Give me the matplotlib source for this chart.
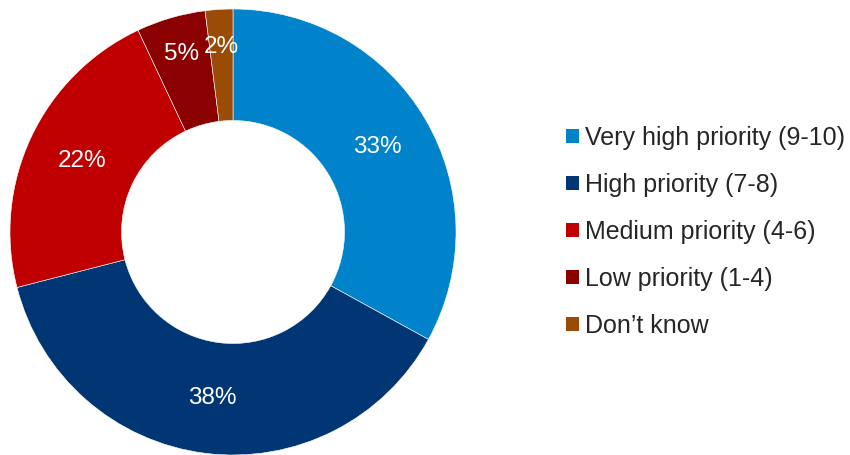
import matplotlib
matplotlib.use("Agg")
import matplotlib.pyplot as plt
from matplotlib.patches import Patch

categories = ["Very high priority (9-10)", "High priority (7-8)",
              "Medium priority (4-6)", "Low priority (1-4)", "Don\u2019t know"]
shares = [33, 38, 22, 5, 2]
colors = ["#0083CB", "#003673", "#C00000", "#8B0000", "#9A4B06"]

plt.rcParams["font.family"] = ["Liberation Sans", "DejaVu Sans"]

fig = plt.figure(figsize=(8.5, 4.55), dpi=100)
ax = fig.add_axes([10 / 850, 0.0, 446 / 850, 446 / 455])
wedges, texts, autotexts = ax.pie(
    shares, colors=colors, startangle=90, counterclock=False,
    radius=1.0, autopct="%d%%", pctdistance=0.75,
    wedgeprops=dict(width=0.5, edgecolor="white", linewidth=0.4),
    textprops=dict(color="white", fontsize=17.5),
)
# thin slices: push their labels toward the outer rim
for share, t in zip(shares, autotexts):
    if share < 10:
        x, y = t.get_position()
        t.set_position((x * 0.83 / 0.75, y * 0.83 / 0.75))
ax.set_xlim(-1, 1)
ax.set_ylim(-1, 1)
ax.set_aspect("equal")
ax.axis("off")

handles = [Patch(facecolor=c, edgecolor="none") for c in colors]
fig.legend(handles, categories, loc="center left",
           bbox_to_anchor=(566 / 850, 1 - 232 / 455), frameon=False,
           fontsize=18, handlelength=0.5, handleheight=0.5,
           handletextpad=0.25, labelspacing=0.92, borderpad=0,
           borderaxespad=0, labelcolor="#262626")

fig.savefig("out.png", dpi=100)
